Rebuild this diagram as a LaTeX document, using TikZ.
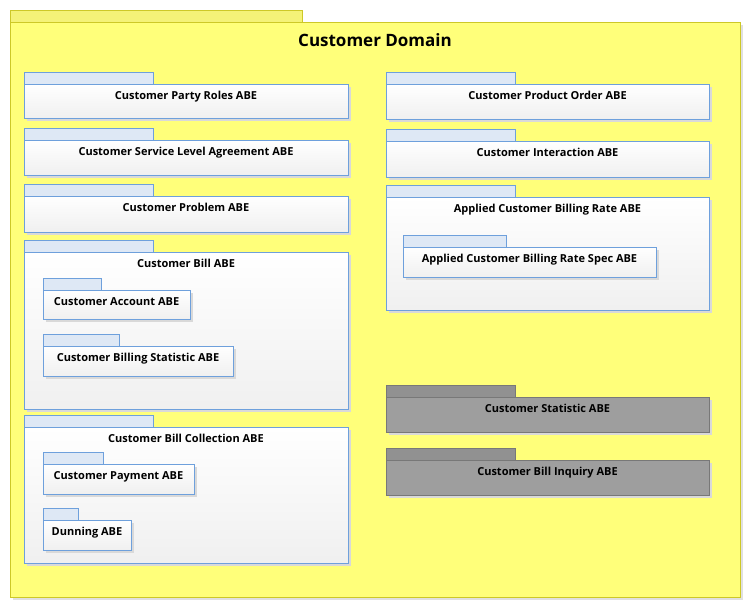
\documentclass[tikz,border=0pt]{standalone}
\usepackage{fontspec}
\setmainfont{Open Sans}
\usetikzlibrary{positioning}
\definecolor{domfill}{RGB}{255,255,122}
\definecolor{domline}{RGB}{205,200,40}
\definecolor{domtab}{RGB}{244,242,120}
\definecolor{pkgline}{RGB}{110,160,220}
\definecolor{pkgtab}{RGB}{222,232,245}
\definecolor{greyfill}{RGB}{158,158,158}
\definecolor{greyline}{RGB}{120,120,120}
\tikzset{
    pkgbody/.style={draw=pkgline, top color=white, bottom color=black!6},
    pkgtabs/.style={draw=pkgline, fill=pkgtab},
    greybody/.style={draw=greyline, fill=greyfill},
    greytabs/.style={draw=greyline, fill=greyfill!92!black},
    shade/.style={fill=black!15},
    label/.style={font=\bfseries\fontsize{11}{13}\selectfont, anchor=north, inner sep=0pt},
}
% #1 name, #2 left, #3 tab right, #4 tab top, #5 right, #6 body top, #7 bottom, #8 text, #9 look
\newcommand{\pkg}[9]{
    \fill[shade] (#2+3,#6+3) rectangle (#5+3,#7+3);
    \draw[#9tabs] (#2,#4) rectangle (#3,#6);
    \draw[#9body] (#2,#6) rectangle (#5,#7);
    \node[label] (#1) at ({(#2+#5)/2},#6+7) {#8};
}
\begin{document}
\begin{tikzpicture}[x=1pt,y=-1pt,line width=0.8pt]
      \useasboundingbox (0,0) rectangle (755,611);
      % domain frame
      \fill[black!12] (13,25) rectangle (743,600);
      \draw[domline, fill=domtab] (10,10) rectangle (302,22);
      \draw[domline, fill=domfill] (10,22) rectangle (740,597);
      \node[font=\bfseries\fontsize{17}{20}\selectfont] (domain) at (375,40) {Customer Domain};

      % left column
      \pkg{party}{24}{153}{72}{348}{84}{118}{Customer Party Roles ABE}{pkg}
      \pkg{sla}{24}{153}{128}{348}{140}{175}{Customer Service Level Agreement ABE}{pkg}
      \pkg{problem}{24}{153}{184}{348}{196}{232}{Customer Problem ABE}{pkg}
      \pkg{bill}{24}{153}{240}{348}{252}{409}{Customer Bill ABE}{pkg}
      \pkg{account}{43}{101}{278}{190}{290}{319}{Customer Account ABE}{pkg}
      \pkg{billstat}{43}{119}{334}{233}{346}{376}{Customer Billing Statistic ABE}{pkg}
      \pkg{collect}{24}{153}{415}{348}{427}{563}{Customer Bill Collection ABE}{pkg}
      \pkg{payment}{43}{103}{452}{194}{464}{494}{Customer Payment ABE}{pkg}
      \pkg{dunning}{43}{78}{508}{131}{520}{550}{Dunning ABE}{pkg}

      % right column
      \pkg{order}{386}{515}{72}{709}{84}{119}{Customer Product Order ABE}{pkg}
      \pkg{interact}{386}{515}{129}{709}{141}{177}{Customer Interaction ABE}{pkg}
      \pkg{rate}{386}{515}{185}{709}{197}{310}{Applied Customer Billing Rate ABE}{pkg}
      \pkg{ratespec}{403}{506}{235}{656}{247}{277}{Applied Customer Billing Rate Spec ABE}{pkg}
      \pkg{statistic}{386}{515}{385}{709}{397}{432}{Customer Statistic ABE}{grey}
      \pkg{inquiry}{386}{515}{448}{709}{460}{495}{Customer Bill Inquiry ABE}{grey}
\end{tikzpicture}
\end{document}
